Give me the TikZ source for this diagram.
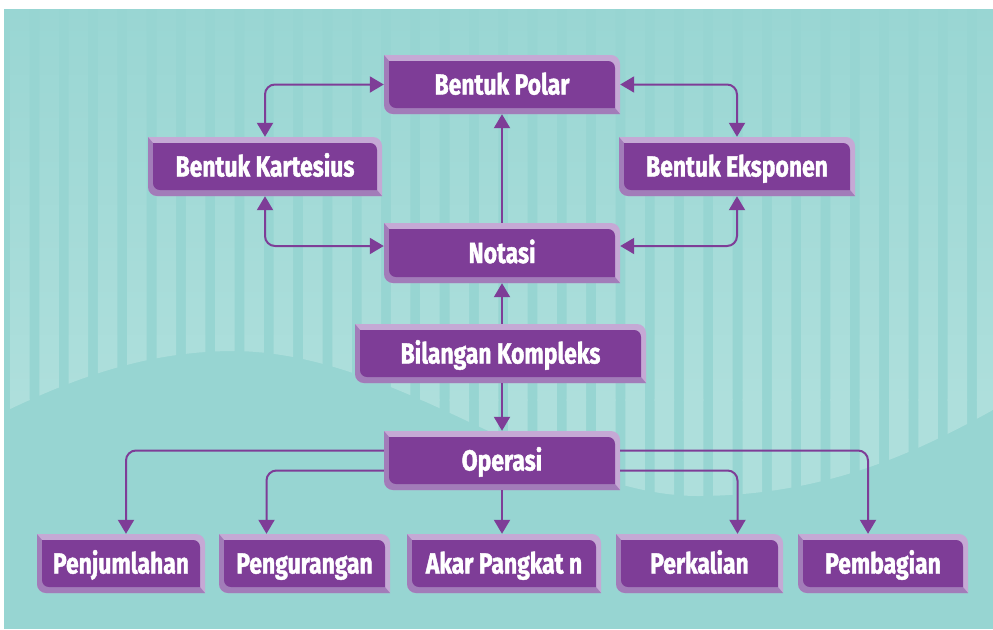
\documentclass[tikz,border=0pt]{standalone}
\usepackage{fontspec}
\newfontfamily\boxfont{Fira Sans}[FakeStretch=0.79, BoldFeatures={FakeBold=1.4}]
\usetikzlibrary{arrows.meta}
\definecolor{bg}{HTML}{97D5D2}
\definecolor{stripeA}{HTML}{99D6D3}
\definecolor{stripeM}{HTML}{A0D9D6}
\definecolor{stripeB}{HTML}{AEDFDC}
\definecolor{bvlight}{HTML}{C5A9D5}
\definecolor{bvmid}{HTML}{A27CB9}
\definecolor{bvdark}{HTML}{7E3D97}
\definecolor{conncol}{HTML}{7E3D97}
\tikzset{
  conn/.style={draw=conncol, line width=2pt, rounded corners=10pt,
    >={Triangle[width=16pt,length=14pt]}},
  boxlbl/.style={inner sep=0pt, text=white, text height=20pt, text depth=0pt,
    font=\boxfont\bfseries\fontsize{29}{32}\selectfont}
}
% name, x0, y0, x1, y1, text
\newcommand\bevbox[6]{%
  \fill[bvlight] (#2,#3) -- ({#4-9},#3) .. controls ({#4-4},#3) and (#4,{#3+4}) .. (#4,{#3+9})
     -- (#4,#5) -- ({#2+9},#5) .. controls ({#2+4},#5) and (#2,{#5-4}) .. (#2,{#5-9}) -- cycle;
  \fill[bvmid] (#2,#3) -- ({#2+5},{#3+6}) -- ({#4-5},{#5-6}) -- (#4,#5) -- ({#2+9},#5)
     .. controls ({#2+4},#5) and (#2,{#5-4}) .. (#2,{#5-9}) -- cycle;
  \fill[bvdark] ({#2+5},{#3+6}) -- ({#4-12},{#3+6}) .. controls ({#4-8},{#3+6}) and ({#4-5},{#3+9}) .. ({#4-5},{#3+13})
     -- ({#4-5},{#5-6}) -- ({#2+12},{#5-6}) .. controls ({#2+8},{#5-6}) and ({#2+5},{#5-9}) .. ({#2+5},{#5-13}) -- cycle;
  \node[boxlbl, minimum width={#4-#2}, minimum height={#5-#3}] (#1) at ({(#2+#4)/2},{(#3+#5)/2}) {#6};
}
\begin{document}
\begin{tikzpicture}[x=1pt,y=-1pt]
\useasboundingbox (0,0) rectangle (993,629);
\fill[white] (0,0) rectangle (993,629);
\fill[bg] (4,9) rectangle (993,629);
% striped background above the wave
\begin{scope}
  \clip (4,9) -- (4,412) .. controls (80,375) and (150,352) .. (230,351)
     .. controls (400,350) and (550,497) .. (700,496)
     .. controls (830,495) and (920,450) .. (993,410) -- (993,9) -- cycle;
  \clip \foreach \k in {0,...,33} { ({10+29.3*\k},9) rectangle ({29.5+29.3*\k},629) };
  \shade[top color=stripeA, middle color=stripeM, bottom color=stripeB] (4,9) rectangle (993,400);
  \fill[stripeB] (4,399) rectangle (993,629);
\end{scope}
% boxes
\bevbox{pol}{384}{55}{620}{114}{Bentuk Polar}
\bevbox{kar}{148}{137}{382}{196}{Bentuk Kartesius}
\bevbox{eks}{619}{137}{855}{196}{Bentuk Eksponen}
\bevbox{not}{384}{223}{620}{283}{Notasi}
\bevbox{bil}{355}{324}{646}{383}{Bilangan Kompleks}
\bevbox{ope}{384}{431}{620}{490}{Operasi}
\bevbox{pen}{37}{534}{205}{593}{Penjumlahan}
\bevbox{png}{219}{534}{390}{593}{Pengurangan}
\bevbox{aka}{407}{534}{601}{593}{Akar Pangkat n}
\bevbox{per}{616}{534}{783}{593}{Perkalian\hspace{24pt}}
\bevbox{pem}{798}{534}{968}{593}{Pembagian}
% connectors
\draw[conn,<->] (pol.west) -| (kar.north);
\draw[conn,<->] (pol.east) -| (eks.north);
\draw[conn,<->] ([yshift=7pt]not.west) -| (kar.south);
\draw[conn,<->] ([yshift=7pt]not.east) -| (eks.south);
\draw[conn,->] (not.north) -- (pol.south);
\draw[conn,->] (bil.north -| not.south) -- (not.south);
\draw[conn,->] (bil.south -| ope.north) -- (ope.north);
\draw[conn,->] ([yshift=10pt]ope.west) -| ([xshift=5pt]pen.north);
\draw[conn,->] ([yshift=-10pt]ope.west) -| ([xshift=-38pt]png.north);
\draw[conn,->] (ope.south) -- (ope.south |- aka.north);
\draw[conn,->] ([yshift=-10pt]ope.east) -| ([xshift=38pt]per.north);
\draw[conn,->] ([yshift=10pt]ope.east) -| ([xshift=-15pt]pem.north);
\end{tikzpicture}
\end{document}
